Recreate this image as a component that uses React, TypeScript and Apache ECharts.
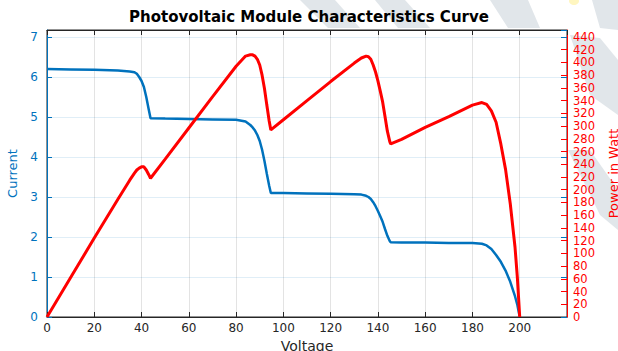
import React, { useEffect, useRef } from "react";
import * as echarts from "echarts";

const voltage = [
  0, 10, 20, 30, 35, 37, 38, 39, 40, 41, 42, 43, 43.8, 50, 60, 70, 80, 84, 86, 87, 88, 89, 90, 91,
  92, 93, 94, 94.7, 100, 110, 120, 130, 133, 135, 136, 137, 138, 139, 140, 141, 142, 143, 144, 145,
  145.4, 150, 160, 170, 180, 184, 186, 188, 190, 192, 194, 196, 198, 199, 200,
];
const current = [
  6.2, 6.19, 6.18, 6.16, 6.14, 6.12, 6.08, 6.0, 5.9, 5.75, 5.5, 5.2, 4.97, 4.96, 4.95, 4.94, 4.93,
  4.89, 4.8, 4.74, 4.66, 4.55, 4.4, 4.18, 3.9, 3.58, 3.28, 3.1, 3.1, 3.09, 3.08, 3.07, 3.06, 3.03,
  3.0, 2.95, 2.87, 2.77, 2.65, 2.52, 2.38, 2.2, 2.03, 1.9, 1.87, 1.86, 1.86, 1.85, 1.85, 1.83, 1.79,
  1.7, 1.55, 1.38, 1.16, 0.88, 0.52, 0.3, 0,
];
const power = [
  0, 62, 124, 185, 215, 226, 231, 234, 236, 236, 231, 224, 218, 248, 297, 346, 394, 410, 412, 412,
  410, 405, 396, 380, 359, 333, 308, 294, 310, 340, 370, 399, 407, 410, 409, 405, 396, 385, 371, 355,
  338, 315, 292, 276, 272, 279, 298, 315, 333, 337, 334, 324, 306, 272, 232, 178, 110, 62, 0,
];

const BLUE = "#0072BD";
const RED = "#FF0000";
const DARK = "#262626";
const FONT = "DejaVu Sans";

export default function App() {
  const ref = useRef<HTMLDivElement>(null);

  useEffect(() => {
    if (!ref.current) return;
    const chart = echarts.init(ref.current, null, { renderer: "svg" });
    const wm = "#e1e6ea";
    chart.setOption({
      animation: false,
      backgroundColor: "#fff",
      title: {
        text: "Photovoltaic Module Characteristics Curve",
        left: "center",
        top: 4,
        textStyle: { fontFamily: FONT, fontSize: 15, fontWeight: "bold", color: "#000" },
      },
      graphic: [
        { type: "polygon", z: -100, shape: { points: [[300, 0], [335, 0], [360, 28], [328, 28]] }, style: { fill: wm } },
        { type: "polygon", z: -100, shape: { points: [[375, 0], [405, 0], [430, 28], [398, 28]] }, style: { fill: wm } },
        { type: "polygon", z: -100, shape: { points: [[490, 0], [528, 0], [540, 28], [508, 28]] }, style: { fill: wm } },
        { type: "polygon", z: -100, shape: { points: [[592, 0], [618, 0], [618, 30], [600, 28]] }, style: { fill: wm } },
        { type: "polygon", z: -100, shape: { points: [[570, 35], [600, 38], [618, 60], [618, 115], [590, 95]] }, style: { fill: wm } },
        { type: "polygon", z: -100, shape: { points: [[568, 150], [590, 150], [618, 190], [618, 230], [600, 215]] }, style: { fill: wm } },
        { type: "ellipse", z: -100, shape: { cx: 574, cy: 1, rx: 5, ry: 4 }, style: { fill: "#fff6c0" } },
      ],
      grid: {
        left: 47,
        right: 51,
        top: 30,
        bottom: 34,
        outerBoundsMode: "none",
        containLabel: false,
        show: true,
        backgroundColor: "#fff",
        borderColor: DARK,
        borderWidth: 1,
      },
      xAxis: [
        {
          type: "value",
          position: "bottom",
          min: 0,
          max: 220,
          interval: 20,
          axisLine: { onZero: false, lineStyle: { color: DARK, width: 1 } },
          axisTick: { inside: true, length: 5, lineStyle: { color: DARK } },
          axisLabel: { color: DARK, fontFamily: FONT, fontSize: 12, margin: 5, showMaxLabel: false },
          splitLine: { show: true, lineStyle: { color: "rgba(38,38,38,0.13)", width: 1 } },
          name: "Voltage",
          nameLocation: "middle",
          nameGap: 22,
          nameTextStyle: { color: DARK, fontFamily: FONT, fontSize: 14 },
        },
        {
          type: "value",
          position: "top",
          min: 0,
          max: 220,
          interval: 20,
          axisLine: { onZero: false, lineStyle: { color: DARK, width: 1 } },
          axisTick: { inside: true, length: 5, lineStyle: { color: DARK } },
          axisLabel: { show: false },
          splitLine: { show: false },
        },
      ],
      yAxis: [
        {
          type: "value",
          position: "left",
          min: 0,
          max: 7.175,
          interval: 1,
          axisLine: { show: true, onZero: false, lineStyle: { color: BLUE, width: 1 } },
          axisTick: { show: true, inside: true, length: 5, lineStyle: { color: BLUE } },
          axisLabel: { color: BLUE, fontFamily: FONT, fontSize: 12, margin: 9, showMaxLabel: false },
          splitLine: { show: true, lineStyle: { color: "rgba(0,114,189,0.12)", width: 1 } },
          name: "Current",
          nameLocation: "middle",
          nameRotate: 90,
          nameGap: 24,
          nameTextStyle: { color: BLUE, fontFamily: FONT, fontSize: 13 },
        },
        {
          type: "value",
          position: "right",
          min: 0,
          max: 451,
          interval: 20,
          axisLine: { show: true, onZero: false, lineStyle: { color: RED, width: 1 } },
          axisTick: { show: true, inside: true, length: 6, lineStyle: { color: RED } },
          axisLabel: {
            color: RED,
            fontFamily: FONT,
            fontSize: 11.5,
            lineHeight: 12,
            margin: 6,
            showMaxLabel: false,
          },
          splitLine: { show: false },
          name: "Power in Watt",
          nameLocation: "middle",
          nameRotate: 90,
          nameGap: 40,
          nameTextStyle: { color: RED, fontFamily: FONT, fontSize: 13 },
        },
        {
          type: "value",
          position: "right",
          min: 0,
          max: 7.175,
          interval: 1,
          axisLine: { show: false, onZero: false },
          axisTick: { show: true, inside: true, length: 6, lineStyle: { color: BLUE } },
          axisLabel: { show: false },
          splitLine: { show: false },
        },
      ],
      series: [
        {
          name: "Current",
          type: "line",
          xAxisIndex: 0,
          yAxisIndex: 0,
          data: voltage.map((v, i) => [v, current[i]]),
          showSymbol: false,
          symbol: "none",
          lineStyle: { color: BLUE, width: 2.5 },
          itemStyle: { color: BLUE },
        },
        {
          name: "Power",
          type: "line",
          xAxisIndex: 0,
          yAxisIndex: 1,
          data: voltage.map((v, i) => [v, power[i]]),
          showSymbol: false,
          symbol: "none",
          lineStyle: { color: RED, width: 3 },
          itemStyle: { color: RED },
        },
      ],
    });
    return () => chart.dispose();
  }, []);

  return <div ref={ref} style={{ width: 618, height: 351, position: "fixed", left: 0, top: 0 }} />;
}
